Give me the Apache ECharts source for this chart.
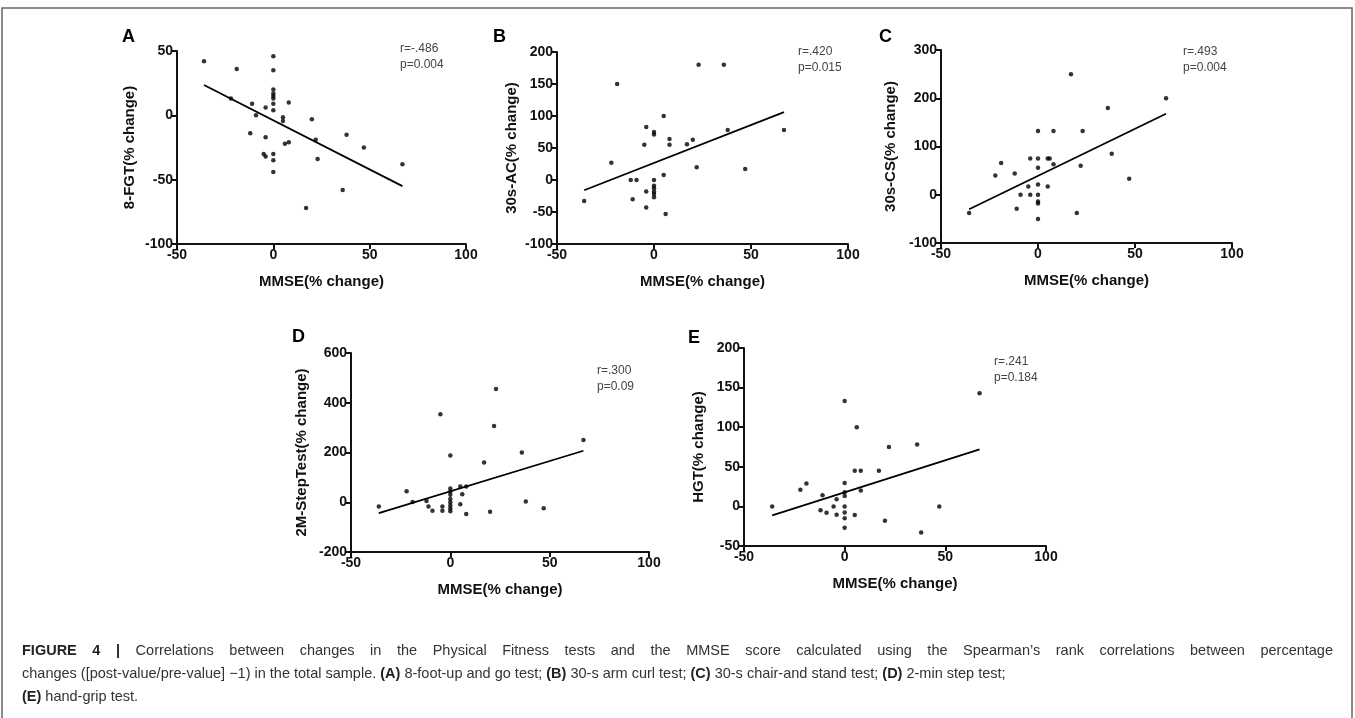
<!DOCTYPE html>
<html>
<head>
<meta charset="utf-8">
<script src="https://cdn.jsdelivr.net/npm/echarts@6/dist/echarts.min.js"></script>
<style>
body{margin:0;background:#fff}
#main{width:1355px;height:718px}
</style>
</head>
<body>
<div id="main"></div>
<script>
// MMSE (% change) on x, test (% change) on y
var fgtPoints = [[-36,42],[-19,36],[-22,13],[-11,9],[-9,0],[-4,6],[-12,-14],[-4,-17],[-5,-30],[-4,-32],
  [0,46],[0,35],[0,20],[0,17],[0,15],[0,13],[0,9],[0,4],[0,-30],[0,-35],[0,-44],
  [8,10],[5,-1.5],[5,-4.5],[6,-22],[8,-21],[20,-3],[22,-19],[23,-34],[17,-72],[38,-15],[36,-58],[47,-25],[67,-38]];
var fgtFit = [[-36,23.6],[67,-55]];

var acPoints = [[-36,-33],[-22,27],[-19,150],[-12,0],[-9,0],[-11,-30],[-4,83],[-5,55],[-4,-18],[-4,-43],
  [0,75],[0,71],[0,0],[0,-9],[0,-13],[0,-18],[0,-22],[0,-27],
  [5,100],[5,8],[6,-53],[8,64],[8,55],[17,56],[20,63],[22,20],[23,180],[36,180],[38,78],[47,17],[67,78]];
var acFit = [[-36,-16],[67,106]];

var csPoints = [[-35.5,-38],[-22,40],[-19,66],[-12,44],[-11,-29],[-9,0],[-4,75],[-5,17],[-4,0],
  [0,75],[0,56],[0,132],[0,21],[0,0],[0,-14],[0,-18],[0,-50],
  [5,75],[6,75],[5,17],[8,132],[8,63],[17,250],[20,-38],[23,132],[22,60],[36,180],[38,85],[47,33],[66,200]];
var csFit = [[-35.5,-30],[66,168]];

var stepPoints = [[-36,-17],[-22,44],[-19,1],[-12,5],[-11,-17],[-9,-34],[-4,-17],[-4,-34],[-5,354],
  [0,188],[0,55],[0,43],[0,30],[0,13],[0,0],[0,-13],[0,-25],[0,-36],
  [5,63],[5,-8],[6,32],[8,63],[8,-47],[17,160],[20,-38],[22,307],[23,455],[36,200],[38,3],[47,-24],[67,250]];
var stepFit = [[-36,-44],[67,207]];

var hgtPoints = [[-36,0],[-22,21],[-19,29],[-11,14],[-12,-5],[-9,-8],[-5.5,0],[-4,9],[-4,-10.5],
  [0,133],[0,29.5],[0,18],[0,13],[0,0],[0,-7.6],[0,-15],[0,-27],
  [5,45],[5,-11],[6,100],[8,45],[8,20],[17,45],[20,-18],[22,75],[36,78],[38,-33],[47,0],[67,143]];
var hgtFit = [[-36,-11.4],[67,72]];

var xRange = [-50, 100, 50];
var yRanges = [[-100,50,50],[-100,200,50],[-100,300,100],[-200,600,200],[-50,200,50]];
var letters = ['A','B','C','D','E'];
var yNames = ['8-FGT(% change)','30s-AC(% change)','30s-CS(% change)','2M-StepTest(% change)','HGT(% change)'];
var stats = ['r=-.486\np=0.004','r=.420\np=0.015','r=.493\np=0.004','r=.300\np=0.09','r=.241\np=0.184'];
var allPoints = [fgtPoints, acPoints, csPoints, stepPoints, hgtPoints];
var allFits = [fgtFit, acFit, csFit, stepFit, hgtFit];

// caption text
var capLine1 = 'FIGURE 4 | Correlations between changes in the Physical Fitness tests and the MMSE score calculated using the Spearman\u2019s rank correlations between percentage';
var capLine2 = 'changes ([post-value/pre-value] \u22121) in the total sample. {b|(A)} 8-foot-up and go test; {b|(B)} 30-s arm curl test; {b|(C)} 30-s chair-and stand test; {b|(D)} 2-min step test;';
var capLine3 = '{b|(E)} hand-grip test.';

// layout of each panel (px)
var boxes = [
  {left:177, top:51, width:289, height:193, gap:40, lx:122, ly:28, sx:400, sy:41},
  {left:557, top:52, width:291, height:192, gap:38, lx:493, ly:28, sx:798, sy:44},
  {left:941, top:50, width:291, height:193, gap:43, lx:879, ly:28, sx:1183, sy:44},
  {left:351, top:353, width:298, height:199, gap:42, lx:292, ly:328, sx:597, sy:363},
  {left:744, top:348, width:302, height:198, gap:38, lx:688, ly:329, sx:994, sy:354}
];

var font = 'Liberation Sans, Arial, Helvetica, sans-serif';
var grids = [], xAxes = [], yAxes = [], series = [], graphics = [];

for (var i = 0; i < 5; i++) {
  var b = boxes[i];
  grids.push({left:b.left, top:b.top, width:b.width, height:b.height, containLabel:false});
  var axisCommon = {
    axisLine:{show:true, onZero:false, lineStyle:{color:'#111', width:2}},
    axisTick:{show:true, inside:false, length:5, lineStyle:{color:'#111', width:2}},
    axisLabel:{color:'#111', fontWeight:'bold', fontSize:14, fontFamily:font, margin:4},
    splitLine:{show:false},
    nameLocation:'middle',
    nameTextStyle:{color:'#111', fontWeight:'bold', fontSize:15, fontFamily:font}
  };
  xAxes.push(Object.assign({}, axisCommon, {
    gridIndex:i, type:'value', min:xRange[0], max:xRange[1], interval:xRange[2],
    name:'MMSE(% change)', nameGap:30
  }));
  yAxes.push(Object.assign({}, axisCommon, {
    gridIndex:i, type:'value', min:yRanges[i][0], max:yRanges[i][1], interval:yRanges[i][2],
    name:yNames[i], nameGap:b.gap
  }));
  series.push({
    type:'scatter', xAxisIndex:i, yAxisIndex:i, data:allPoints[i],
    symbol:'circle', symbolSize:4.5, itemStyle:{color:'#000'}, silent:true
  });
  series.push({
    type:'line', xAxisIndex:i, yAxisIndex:i, data:allFits[i],
    symbol:'none', lineStyle:{color:'#000', width:1.8}, silent:true
  });
  graphics.push({type:'text', left:b.lx, top:b.ly,
    style:{text:letters[i], fill:'#000', font:'bold 18px ' + font}});
  graphics.push({type:'text', left:b.sx, top:b.sy,
    style:{text:stats[i], fill:'#444', font:'12px ' + font, lineHeight:15.5}});
}

// figure frame
graphics.push({type:'rect', shape:{x:2, y:8, width:1350, height:716},
  style:{fill:'none', stroke:'#666', lineWidth:1.5}, silent:true});

// caption: first line is justified to the full width
var capSize = 14.5;
var capWidth = 1311;
var ctx = document.createElement('canvas').getContext('2d');
function textW(t, bold) {
  ctx.font = (bold ? 'bold ' : '') + capSize + 'px ' + font;
  return ctx.measureText(t).width;
}
var words = capLine1.split(' ');
var boldCount = 3; // "FIGURE 4 |"
var used = 0;
for (var k = 0; k < words.length; k++) used += textW(words[k], k < boldCount);
var gapW = (capWidth - used) / (words.length - 1);
var line1Rich = words.map(function (w, k) { return k < boldCount ? '{b|' + w + '}' : w; }).join('{sp| }');

var capRich = {
  b:{font:'bold ' + capSize + 'px ' + font, fill:'#222'},
  sp:{width:gapW, font:capSize + 'px ' + font}
};
var capLines = [line1Rich, capLine2, capLine3];
var capTops = [643, 666, 689];
for (var j = 0; j < capLines.length; j++) {
  graphics.push({type:'text', left:22, top:capTops[j],
    style:{text:capLines[j], fill:'#333', font:capSize + 'px ' + font, rich:capRich}});
}

var chart = echarts.init(document.getElementById('main'));
chart.setOption({
  backgroundColor:'#fff',
  animation:false,
  grid:grids,
  xAxis:xAxes,
  yAxis:yAxes,
  series:series,
  graphic:graphics
});
</script>
</body>
</html>
